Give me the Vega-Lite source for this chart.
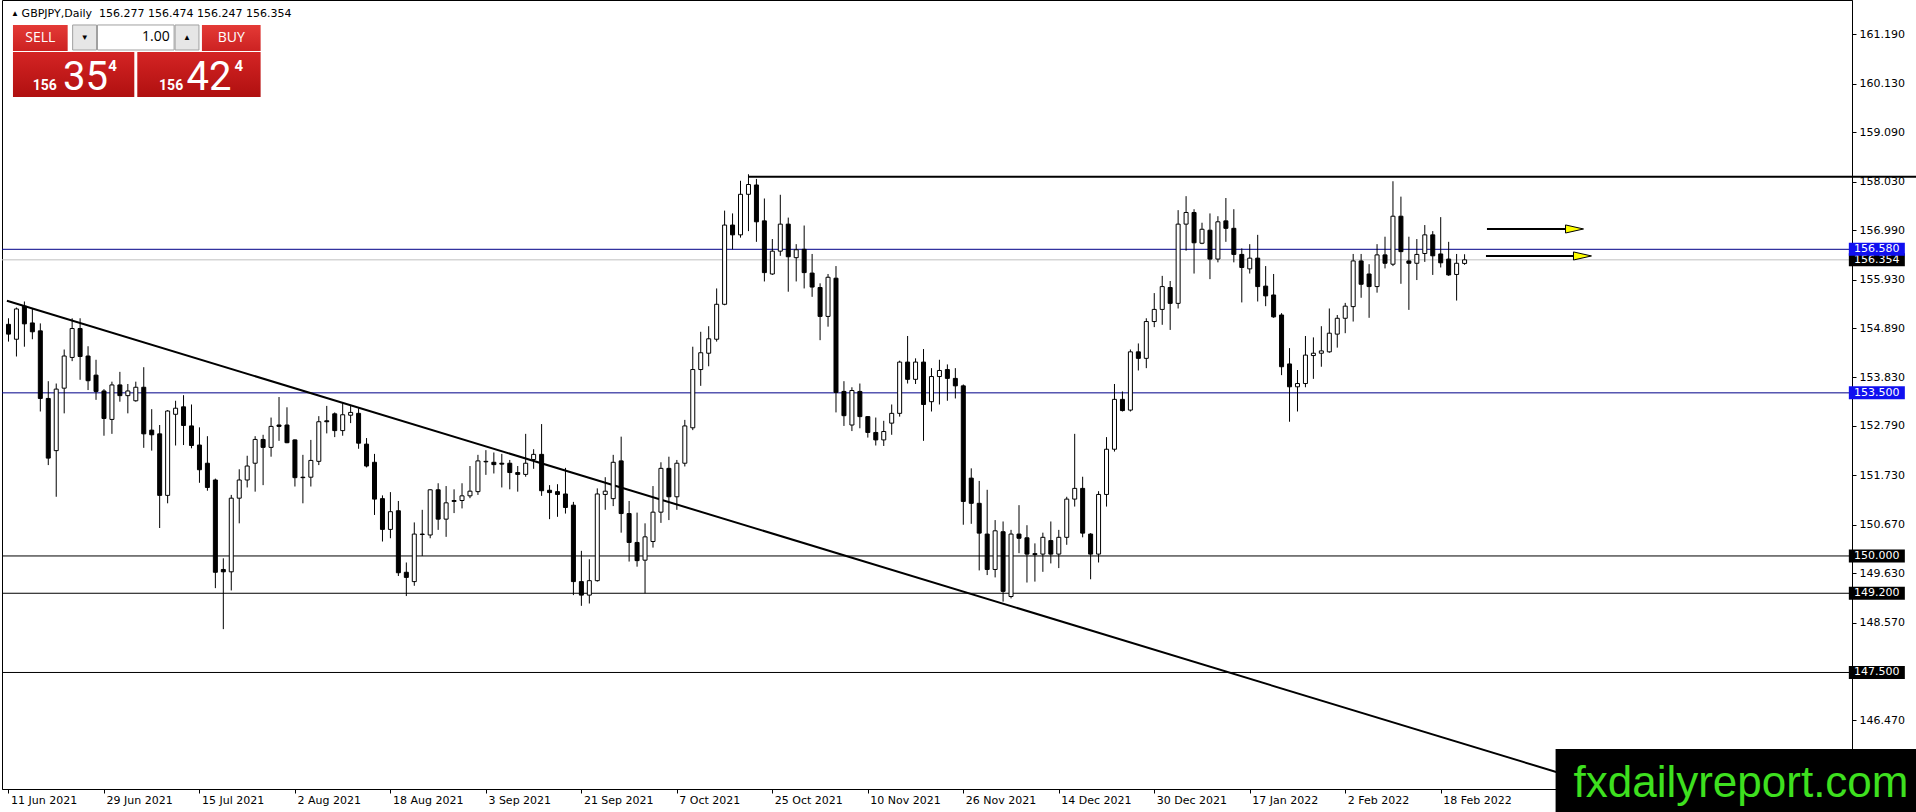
{
"$schema":"https://vega.github.io/schema/vega-lite/v6.json",
"width":1850,"height":789,
"autosize":{"type":"none"},
"padding":{"left":2,"top":0,"right":64,"bottom":23},
"background":"white",
"config":{"view":{"stroke":"black","strokeWidth":1}},
"datasets":{
"candles":[
{"d":"2021-06-11","o":154.97,"h":155.10,"l":154.60,"c":154.76},
{"d":"2021-06-14","o":154.65,"h":155.33,"l":154.28,"c":155.30},
{"d":"2021-06-15","o":155.36,"h":155.46,"l":154.49,"c":154.98},
{"d":"2021-06-16","o":155.00,"h":155.31,"l":154.65,"c":154.81},
{"d":"2021-06-17","o":154.83,"h":154.99,"l":153.10,"c":153.38},
{"d":"2021-06-18","o":153.38,"h":153.75,"l":151.95,"c":152.10},
{"d":"2021-06-21","o":152.26,"h":153.70,"l":151.27,"c":153.58},
{"d":"2021-06-22","o":153.60,"h":154.43,"l":153.06,"c":154.29},
{"d":"2021-06-23","o":154.26,"h":155.10,"l":154.18,"c":154.88},
{"d":"2021-06-24","o":154.88,"h":155.10,"l":153.78,"c":154.28},
{"d":"2021-06-25","o":154.29,"h":154.50,"l":153.56,"c":153.76},
{"d":"2021-06-28","o":153.88,"h":154.21,"l":153.35,"c":153.53},
{"d":"2021-06-29","o":153.54,"h":153.58,"l":152.58,"c":152.95},
{"d":"2021-06-30","o":152.93,"h":153.74,"l":152.62,"c":153.67},
{"d":"2021-07-01","o":153.67,"h":153.95,"l":153.31,"c":153.44},
{"d":"2021-07-02","o":153.44,"h":153.69,"l":153.06,"c":153.54},
{"d":"2021-07-05","o":153.33,"h":153.74,"l":153.31,"c":153.62},
{"d":"2021-07-06","o":153.62,"h":154.05,"l":152.32,"c":152.62},
{"d":"2021-07-07","o":152.70,"h":153.15,"l":152.26,"c":152.60},
{"d":"2021-07-08","o":152.62,"h":152.81,"l":150.60,"c":151.30},
{"d":"2021-07-09","o":151.30,"h":153.13,"l":151.13,"c":153.11},
{"d":"2021-07-12","o":153.04,"h":153.33,"l":152.37,"c":153.17},
{"d":"2021-07-13","o":153.20,"h":153.45,"l":152.38,"c":152.80},
{"d":"2021-07-14","o":152.79,"h":153.25,"l":152.31,"c":152.37},
{"d":"2021-07-15","o":152.38,"h":152.76,"l":151.57,"c":151.85},
{"d":"2021-07-16","o":151.99,"h":152.57,"l":151.40,"c":151.47},
{"d":"2021-07-19","o":151.63,"h":151.66,"l":149.31,"c":149.65},
{"d":"2021-07-20","o":149.71,"h":149.95,"l":148.43,"c":149.66},
{"d":"2021-07-21","o":149.66,"h":151.31,"l":149.26,"c":151.24},
{"d":"2021-07-22","o":151.24,"h":151.86,"l":150.70,"c":151.63},
{"d":"2021-07-23","o":151.63,"h":152.15,"l":151.47,"c":151.93},
{"d":"2021-07-26","o":151.99,"h":152.57,"l":151.38,"c":152.50},
{"d":"2021-07-27","o":152.50,"h":152.60,"l":151.52,"c":152.33},
{"d":"2021-07-28","o":152.33,"h":152.97,"l":152.13,"c":152.78},
{"d":"2021-07-29","o":152.81,"h":153.41,"l":152.47,"c":152.78},
{"d":"2021-07-30","o":152.81,"h":153.19,"l":152.42,"c":152.43},
{"d":"2021-08-02","o":152.49,"h":152.50,"l":151.49,"c":151.68},
{"d":"2021-08-03","o":151.69,"h":152.17,"l":151.13,"c":151.68},
{"d":"2021-08-04","o":151.69,"h":152.49,"l":151.49,"c":152.05},
{"d":"2021-08-05","o":152.03,"h":153.00,"l":151.95,"c":152.88},
{"d":"2021-08-06","o":152.90,"h":153.22,"l":152.63,"c":152.88},
{"d":"2021-08-09","o":153.05,"h":153.08,"l":152.55,"c":152.69},
{"d":"2021-08-10","o":152.69,"h":153.28,"l":152.58,"c":153.03},
{"d":"2021-08-11","o":153.02,"h":153.24,"l":152.85,"c":153.08},
{"d":"2021-08-12","o":153.06,"h":153.17,"l":152.30,"c":152.42},
{"d":"2021-08-13","o":152.40,"h":152.53,"l":151.90,"c":151.93},
{"d":"2021-08-16","o":152.01,"h":152.19,"l":150.88,"c":151.22},
{"d":"2021-08-17","o":151.23,"h":151.30,"l":150.31,"c":150.57},
{"d":"2021-08-18","o":150.57,"h":151.37,"l":150.38,"c":150.95},
{"d":"2021-08-19","o":150.97,"h":151.18,"l":149.57,"c":149.64},
{"d":"2021-08-20","o":149.65,"h":149.86,"l":149.14,"c":149.54},
{"d":"2021-08-23","o":149.45,"h":150.72,"l":149.36,"c":150.47},
{"d":"2021-08-24","o":150.47,"h":150.99,"l":150.00,"c":150.46},
{"d":"2021-08-25","o":150.45,"h":151.43,"l":150.38,"c":151.42},
{"d":"2021-08-26","o":151.42,"h":151.56,"l":150.56,"c":150.79},
{"d":"2021-08-27","o":150.79,"h":151.50,"l":150.41,"c":151.14},
{"d":"2021-08-30","o":151.17,"h":151.43,"l":150.92,"c":151.19},
{"d":"2021-08-31","o":151.19,"h":151.56,"l":151.02,"c":151.29},
{"d":"2021-09-01","o":151.29,"h":151.93,"l":151.24,"c":151.39},
{"d":"2021-09-02","o":151.38,"h":152.17,"l":151.31,"c":152.04},
{"d":"2021-09-03","o":152.02,"h":152.27,"l":151.74,"c":152.03},
{"d":"2021-09-06","o":152.01,"h":152.22,"l":151.77,"c":151.96},
{"d":"2021-09-07","o":151.99,"h":152.19,"l":151.47,"c":151.97},
{"d":"2021-09-08","o":151.99,"h":152.06,"l":151.43,"c":151.79},
{"d":"2021-09-09","o":151.79,"h":151.93,"l":151.38,"c":151.75},
{"d":"2021-09-10","o":151.75,"h":152.62,"l":151.70,"c":151.99},
{"d":"2021-09-13","o":152.07,"h":152.29,"l":151.87,"c":152.18},
{"d":"2021-09-14","o":152.18,"h":152.83,"l":151.29,"c":151.40},
{"d":"2021-09-15","o":151.41,"h":151.52,"l":150.79,"c":151.36},
{"d":"2021-09-16","o":151.38,"h":151.54,"l":150.84,"c":151.32},
{"d":"2021-09-17","o":151.33,"h":151.89,"l":150.91,"c":151.04},
{"d":"2021-09-20","o":151.09,"h":151.16,"l":149.16,"c":149.45},
{"d":"2021-09-21","o":149.45,"h":150.11,"l":148.93,"c":149.16},
{"d":"2021-09-22","o":149.16,"h":149.93,"l":148.98,"c":149.47},
{"d":"2021-09-23","o":149.47,"h":151.45,"l":149.45,"c":151.33},
{"d":"2021-09-24","o":151.32,"h":151.69,"l":150.99,"c":151.39},
{"d":"2021-09-27","o":151.23,"h":152.17,"l":151.07,"c":152.01},
{"d":"2021-09-28","o":152.04,"h":152.56,"l":150.50,"c":150.91},
{"d":"2021-09-29","o":150.91,"h":151.18,"l":149.88,"c":150.29},
{"d":"2021-09-30","o":150.29,"h":150.93,"l":149.77,"c":149.90},
{"d":"2021-10-01","o":149.91,"h":150.70,"l":149.20,"c":150.41},
{"d":"2021-10-04","o":150.31,"h":151.50,"l":150.18,"c":150.94},
{"d":"2021-10-05","o":150.94,"h":152.01,"l":150.71,"c":151.88},
{"d":"2021-10-06","o":151.88,"h":152.13,"l":150.77,"c":151.27},
{"d":"2021-10-07","o":151.27,"h":152.06,"l":150.99,"c":151.99},
{"d":"2021-10-08","o":151.99,"h":152.92,"l":151.92,"c":152.79},
{"d":"2021-10-11","o":152.75,"h":154.49,"l":152.70,"c":154.00},
{"d":"2021-10-12","o":154.00,"h":154.81,"l":153.65,"c":154.36},
{"d":"2021-10-13","o":154.35,"h":154.93,"l":154.07,"c":154.66},
{"d":"2021-10-14","o":154.65,"h":155.74,"l":154.60,"c":155.40},
{"d":"2021-10-15","o":155.40,"h":157.41,"l":155.38,"c":157.10},
{"d":"2021-10-18","o":157.10,"h":157.35,"l":156.58,"c":156.89},
{"d":"2021-10-19","o":156.89,"h":158.05,"l":156.83,"c":157.76},
{"d":"2021-10-20","o":157.76,"h":158.19,"l":156.97,"c":157.97},
{"d":"2021-10-21","o":157.96,"h":158.09,"l":156.74,"c":157.17},
{"d":"2021-10-22","o":157.19,"h":157.67,"l":155.89,"c":156.08},
{"d":"2021-10-25","o":156.05,"h":156.80,"l":156.03,"c":156.54},
{"d":"2021-10-26","o":156.54,"h":157.75,"l":156.44,"c":157.12},
{"d":"2021-10-27","o":157.12,"h":157.26,"l":155.67,"c":156.42},
{"d":"2021-10-28","o":156.40,"h":156.69,"l":155.89,"c":156.57},
{"d":"2021-10-29","o":156.58,"h":157.09,"l":155.74,"c":156.08},
{"d":"2021-11-01","o":156.07,"h":156.48,"l":155.56,"c":155.77},
{"d":"2021-11-02","o":155.76,"h":155.85,"l":154.63,"c":155.14},
{"d":"2021-11-03","o":155.14,"h":156.05,"l":154.92,"c":155.98},
{"d":"2021-11-04","o":155.96,"h":156.22,"l":153.08,"c":153.51},
{"d":"2021-11-05","o":153.53,"h":153.75,"l":152.79,"c":153.01},
{"d":"2021-11-08","o":152.81,"h":153.62,"l":152.68,"c":153.55},
{"d":"2021-11-09","o":153.53,"h":153.70,"l":152.74,"c":152.99},
{"d":"2021-11-10","o":152.99,"h":153.00,"l":152.54,"c":152.65},
{"d":"2021-11-11","o":152.65,"h":152.97,"l":152.37,"c":152.49},
{"d":"2021-11-12","o":152.49,"h":152.90,"l":152.36,"c":152.67},
{"d":"2021-11-15","o":152.85,"h":153.25,"l":152.60,"c":153.06},
{"d":"2021-11-16","o":153.06,"h":154.19,"l":152.99,"c":154.16},
{"d":"2021-11-17","o":154.16,"h":154.72,"l":153.70,"c":153.79},
{"d":"2021-11-18","o":153.79,"h":154.24,"l":153.69,"c":154.16},
{"d":"2021-11-19","o":154.16,"h":154.44,"l":152.47,"c":153.25},
{"d":"2021-11-22","o":153.31,"h":154.03,"l":153.10,"c":153.85},
{"d":"2021-11-23","o":153.85,"h":154.21,"l":153.25,"c":153.98},
{"d":"2021-11-24","o":154.00,"h":154.11,"l":153.33,"c":153.81},
{"d":"2021-11-25","o":153.81,"h":154.03,"l":153.38,"c":153.65},
{"d":"2021-11-26","o":153.65,"h":153.68,"l":150.67,"c":151.17},
{"d":"2021-11-29","o":151.67,"h":151.88,"l":150.69,"c":151.13},
{"d":"2021-11-30","o":151.13,"h":151.61,"l":149.69,"c":150.49},
{"d":"2021-12-01","o":150.47,"h":151.42,"l":149.59,"c":149.71},
{"d":"2021-12-02","o":149.71,"h":150.77,"l":149.54,"c":150.54},
{"d":"2021-12-03","o":150.52,"h":150.74,"l":149.02,"c":149.24},
{"d":"2021-12-06","o":149.13,"h":150.56,"l":149.09,"c":150.47},
{"d":"2021-12-07","o":150.47,"h":151.09,"l":150.06,"c":150.38},
{"d":"2021-12-08","o":150.39,"h":150.66,"l":149.43,"c":150.04},
{"d":"2021-12-09","o":150.05,"h":150.27,"l":149.45,"c":150.03},
{"d":"2021-12-10","o":150.04,"h":150.50,"l":149.66,"c":150.40},
{"d":"2021-12-13","o":150.33,"h":150.74,"l":149.84,"c":150.04},
{"d":"2021-12-14","o":150.04,"h":150.56,"l":149.74,"c":150.40},
{"d":"2021-12-15","o":150.40,"h":151.27,"l":150.24,"c":151.22},
{"d":"2021-12-16","o":151.22,"h":152.62,"l":151.06,"c":151.45},
{"d":"2021-12-17","o":151.45,"h":151.70,"l":150.40,"c":150.49},
{"d":"2021-12-20","o":150.47,"h":150.49,"l":149.50,"c":150.04},
{"d":"2021-12-21","o":150.04,"h":151.39,"l":149.86,"c":151.32},
{"d":"2021-12-22","o":151.32,"h":152.55,"l":151.06,"c":152.29},
{"d":"2021-12-23","o":152.29,"h":153.69,"l":152.24,"c":153.36},
{"d":"2021-12-24","o":153.36,"h":153.53,"l":153.10,"c":153.12},
{"d":"2021-12-27","o":153.13,"h":154.43,"l":153.10,"c":154.38},
{"d":"2021-12-28","o":154.38,"h":154.56,"l":153.98,"c":154.24},
{"d":"2021-12-29","o":154.24,"h":155.10,"l":154.03,"c":155.03},
{"d":"2021-12-30","o":155.03,"h":155.64,"l":154.91,"c":155.29},
{"d":"2021-12-31","o":155.29,"h":156.01,"l":154.96,"c":155.78},
{"d":"2022-01-03","o":155.76,"h":155.90,"l":154.85,"c":155.42},
{"d":"2022-01-04","o":155.42,"h":157.42,"l":155.31,"c":157.12},
{"d":"2022-01-05","o":157.12,"h":157.72,"l":156.55,"c":157.37},
{"d":"2022-01-06","o":157.37,"h":157.44,"l":156.06,"c":156.72},
{"d":"2022-01-07","o":156.71,"h":157.15,"l":156.69,"c":157.01},
{"d":"2022-01-10","o":156.99,"h":157.35,"l":155.94,"c":156.37},
{"d":"2022-01-11","o":156.37,"h":157.29,"l":156.30,"c":157.17},
{"d":"2022-01-12","o":157.19,"h":157.68,"l":156.74,"c":157.03},
{"d":"2022-01-13","o":157.03,"h":157.44,"l":156.30,"c":156.47},
{"d":"2022-01-14","o":156.47,"h":156.60,"l":155.44,"c":156.19},
{"d":"2022-01-17","o":156.16,"h":156.69,"l":156.06,"c":156.39},
{"d":"2022-01-18","o":156.39,"h":156.89,"l":155.46,"c":155.78},
{"d":"2022-01-19","o":155.79,"h":156.22,"l":155.36,"c":155.58},
{"d":"2022-01-20","o":155.60,"h":156.05,"l":155.11,"c":155.13},
{"d":"2022-01-21","o":155.17,"h":155.21,"l":153.88,"c":154.06},
{"d":"2022-01-24","o":154.12,"h":154.46,"l":152.88,"c":153.63},
{"d":"2022-01-25","o":153.63,"h":153.99,"l":153.10,"c":153.70},
{"d":"2022-01-26","o":153.70,"h":154.72,"l":153.62,"c":154.31},
{"d":"2022-01-27","o":154.30,"h":154.69,"l":153.80,"c":154.35},
{"d":"2022-01-28","o":154.35,"h":154.93,"l":154.06,"c":154.40},
{"d":"2022-01-31","o":154.38,"h":155.31,"l":154.36,"c":154.78},
{"d":"2022-02-01","o":154.76,"h":155.17,"l":154.47,"c":155.10},
{"d":"2022-02-02","o":155.10,"h":155.43,"l":154.78,"c":155.36},
{"d":"2022-02-03","o":155.35,"h":156.48,"l":155.03,"c":156.33},
{"d":"2022-02-04","o":156.33,"h":156.48,"l":155.54,"c":155.83},
{"d":"2022-02-07","o":156.05,"h":156.26,"l":155.11,"c":155.78},
{"d":"2022-02-08","o":155.78,"h":156.69,"l":155.65,"c":156.46},
{"d":"2022-02-09","o":156.46,"h":156.85,"l":156.17,"c":156.28},
{"d":"2022-02-10","o":156.26,"h":158.04,"l":156.22,"c":157.29},
{"d":"2022-02-11","o":157.29,"h":157.71,"l":155.84,"c":156.53},
{"d":"2022-02-14","o":156.33,"h":156.85,"l":155.28,"c":156.28},
{"d":"2022-02-15","o":156.28,"h":156.80,"l":155.92,"c":156.47},
{"d":"2022-02-16","o":156.49,"h":157.10,"l":156.31,"c":156.89},
{"d":"2022-02-17","o":156.89,"h":156.97,"l":156.03,"c":156.44},
{"d":"2022-02-18","o":156.48,"h":157.27,"l":156.19,"c":156.29},
{"d":"2022-02-21","o":156.37,"h":156.74,"l":156.01,"c":156.03},
{"d":"2022-02-22","o":156.04,"h":156.48,"l":155.48,"c":156.28},
{"d":"2022-02-23","o":156.277,"h":156.474,"l":156.247,"c":156.354}
]},
"layer":[
{"data":{"values":[{"p":156.354}]},"mark":{"type":"rule","color":"#c0c0c0","strokeWidth":1},"encoding":{"y":{"field":"p","type":"quantitative"}}},
{"data":{"values":[{"p":156.58},{"p":153.5}]},"mark":{"type":"rule","color":"#000088","strokeWidth":1},"encoding":{"y":{"field":"p","type":"quantitative"}}},
{"data":{"values":[{"p":150.0},{"p":149.2},{"p":147.5}]},"mark":{"type":"rule","color":"black","strokeWidth":1},"encoding":{"y":{"field":"p","type":"quantitative"}}},
{"data":{"values":[{"t1":0.8,"p1":155.477,"t2":201,"p2":145.08}]},"mark":{"type":"rule","color":"black","strokeWidth":2},"encoding":{"x":{"field":"t1","type":"quantitative"},"y":{"field":"p1","type":"quantitative"},"x2":{"field":"t2"},"y2":{"field":"p2"}}},
{"data":{"values":[{"t1":94,"t2":241,"p":158.138}]},"mark":{"type":"rule","color":"black","strokeWidth":2},"encoding":{"x":{"field":"t1","type":"quantitative"},"x2":{"field":"t2"},"y":{"field":"p","type":"quantitative"}}},
{"data":{"name":"candles"},
 "transform":[{"window":[{"op":"row_number","as":"t"}],"sort":[{"field":"d","order":"ascending"}]}],
 "layer":[
  {"mark":{"type":"rule","color":"black","strokeWidth":1},
   "encoding":{
    "x":{"field":"t","type":"quantitative","scale":{"domain":[0.8125,232.0625],"nice":false,"zero":false},
      "axis":{"orient":"bottom","title":null,"grid":false,"values":[1,13,25,37,49,61,73,85,97,109,121,133,145,157,169,181],
        "labelExpr":"['11 Jun 2021','29 Jun 2021','15 Jul 2021','2 Aug 2021','18 Aug 2021','3 Sep 2021','21 Sep 2021','7 Oct 2021','25 Oct 2021','10 Nov 2021','26 Nov 2021','14 Dec 2021','30 Dec 2021','17 Jan 2022','2 Feb 2022','18 Feb 2022'][round((datum.value-1)/12)]",
        "labelAlign":"left","labelOffset":2,"labelPadding":1,"tickSize":4,"tickColor":"black","domainColor":"black","labelColor":"black","labelFont":"DejaVu Sans","labelFontSize":11,"labelOverlap":false,"labelFlush":false,"labelBound":false}},
    "y":{"field":"l","type":"quantitative","scale":{"domain":[145.0,161.929],"nice":false,"zero":false},
      "axis":{"orient":"right","title":null,"grid":false,"values":[161.19,160.13,159.09,158.03,156.99,155.93,154.89,153.83,152.79,151.73,150.67,149.63,148.57,146.47],
        "format":".3f","tickSize":4,"tickColor":"black","domainColor":"black","labelColor":"black","labelFont":"DejaVu Sans","labelFontSize":11,"labelPadding":3,"labelOverlap":false,"labelFlush":false,"labelBound":false}},
    "y2":{"field":"h"}}},
  {"mark":{"type":"bar","width":4,"stroke":"black","strokeWidth":1},
   "encoding":{
    "x":{"field":"t","type":"quantitative"},
    "y":{"field":"o","type":"quantitative"},
    "y2":{"field":"c"},
    "fill":{"condition":{"test":"datum.c >= datum.o","value":"white"},"value":"black"}}}
 ]},
{"data":{"values":[{"from":186.8125,"to":196.8125,"p":157.016},{"from":186.6875,"to":197.8125,"p":156.437}]},
 "layer":[
  {"mark":{"type":"rule","color":"black","strokeWidth":2},"encoding":{"x":{"field":"from","type":"quantitative"},"x2":{"field":"to"},"y":{"field":"p","type":"quantitative"}}},
  {"mark":{"type":"point","shape":"M-1,-0.45L1,0L-1,0.45Z","size":324,"filled":true,"fill":"#ffff00","stroke":"black","strokeWidth":1,"opacity":1,"xOffset":8},"encoding":{"x":{"field":"to","type":"quantitative"},"y":{"field":"p","type":"quantitative"}}}
 ]},
{"data":{"values":[{}]},"mark":{"type":"text","text":"▲","fontSize":8,"color":"black","align":"center","baseline":"middle"},"encoding":{"x":{"datum":1.8125,"type":"quantitative"},"y":{"datum":161.629,"type":"quantitative"}}},
{"data":{"values":[{}]},"mark":{"type":"text","text":"GBPJPY,Daily\u00a0 156.277 156.474 156.247 156.354","font":"DejaVu Sans","fontSize":11,"color":"black","align":"left","baseline":"middle"},"encoding":{"x":{"datum":2.65,"type":"quantitative"},"y":{"datum":161.629,"type":"quantitative"}}},
{"data":{"values":[{}]},"mark":{"type":"rect","fill":{"gradient":"linear","x1":0,"y1":0,"x2":0,"y2":1,"stops":[{"offset":0,"color":"#e43a36"},{"offset":1,"color":"#cc2222"}]}},"encoding":{"x":{"datum":1.5625,"type":"quantitative"},"x2":{"datum":8.4375},"y":{"datum":161.393,"type":"quantitative"},"y2":{"datum":160.835}}},
{"data":{"values":[{}]},"mark":{"type":"rect","fill":{"gradient":"linear","x1":0,"y1":0,"x2":0,"y2":1,"stops":[{"offset":0,"color":"#e43a36"},{"offset":1,"color":"#cc2222"}]}},"encoding":{"x":{"datum":25.3125,"type":"quantitative"},"x2":{"datum":32.6875},"y":{"datum":161.393,"type":"quantitative"},"y2":{"datum":160.835}}},
{"data":{"values":[{}]},"mark":{"type":"rect","fill":"#e6e6e6","stroke":"#a0a0a0","strokeWidth":1},"encoding":{"x":{"datum":9.0625,"type":"quantitative"},"x2":{"datum":12.0625},"y":{"datum":161.393,"type":"quantitative"},"y2":{"datum":160.856}}},
{"data":{"values":[{}]},"mark":{"type":"rect","fill":"white","stroke":"#a0a0a0","strokeWidth":1},"encoding":{"x":{"datum":12.1875,"type":"quantitative"},"x2":{"datum":21.8125},"y":{"datum":161.393,"type":"quantitative"},"y2":{"datum":160.856}}},
{"data":{"values":[{}]},"mark":{"type":"rect","fill":"#e6e6e6","stroke":"#a0a0a0","strokeWidth":1},"encoding":{"x":{"datum":21.9375,"type":"quantitative"},"x2":{"datum":24.9375},"y":{"datum":161.393,"type":"quantitative"},"y2":{"datum":160.856}}},
{"data":{"values":[{}]},"mark":{"type":"rect","fill":{"gradient":"linear","x1":0,"y1":0,"x2":0,"y2":1,"stops":[{"offset":0,"color":"#d42424"},{"offset":1,"color":"#b01010"}]}},"encoding":{"x":{"datum":1.5625,"type":"quantitative"},"x2":{"datum":16.8125},"y":{"datum":160.813,"type":"quantitative"},"y2":{"datum":159.848}}},
{"data":{"values":[{}]},"mark":{"type":"rect","fill":{"gradient":"linear","x1":0,"y1":0,"x2":0,"y2":1,"stops":[{"offset":0,"color":"#d42424"},{"offset":1,"color":"#b01010"}]}},"encoding":{"x":{"datum":17.1875,"type":"quantitative"},"x2":{"datum":32.6875},"y":{"datum":160.813,"type":"quantitative"},"y2":{"datum":159.848}}},
{"data":{"values":[{}]},"mark":{"type":"text","text":"SELL","font":"Open Sans","fontSize":14,"color":"white","align":"center","baseline":"middle"},"encoding":{"x":{"datum":5.0,"type":"quantitative"},"y":{"datum":161.114,"type":"quantitative"}}},
{"data":{"values":[{}]},"mark":{"type":"text","text":"BUY","font":"Open Sans","fontSize":14,"color":"white","align":"center","baseline":"middle"},"encoding":{"x":{"datum":29.0,"type":"quantitative"},"y":{"datum":161.114,"type":"quantitative"}}},
{"data":{"values":[{}]},"mark":{"type":"text","text":"1.00","font":"Open Sans","fontSize":14,"color":"black","align":"right","baseline":"middle"},"encoding":{"x":{"datum":21.275,"type":"quantitative"},"y":{"datum":161.129,"type":"quantitative"}}},
{"data":{"values":[{}]},"mark":{"type":"text","text":"▼","fontSize":8,"color":"black","align":"center","baseline":"middle"},"encoding":{"x":{"datum":10.5625,"type":"quantitative"},"y":{"datum":161.124,"type":"quantitative"}}},
{"data":{"values":[{}]},"mark":{"type":"text","text":"▲","fontSize":8,"color":"black","align":"center","baseline":"middle"},"encoding":{"x":{"datum":23.4375,"type":"quantitative"},"y":{"datum":161.124,"type":"quantitative"}}},
{"data":{"values":[{}]},"mark":{"type":"text","text":"156","font":"Roboto","fontSize":14,"fontWeight":"bold","color":"white","align":"center","baseline":"alphabetic"},"encoding":{"x":{"datum":5.5625,"type":"quantitative"},"y":{"datum":159.99,"type":"quantitative"}}},
{"data":{"values":[{}]},"mark":{"type":"text","text":"35","font":"Roboto","fontSize":40,"color":"white","align":"center","baseline":"alphabetic"},"encoding":{"x":{"datum":10.6875,"type":"quantitative"},"y":{"datum":159.99,"type":"quantitative"}}},
{"data":{"values":[{}]},"mark":{"type":"text","text":"4","font":"Roboto","fontSize":15,"fontWeight":"bold","color":"white","align":"center","baseline":"alphabetic"},"encoding":{"x":{"datum":14.0625,"type":"quantitative"},"y":{"datum":160.406,"type":"quantitative"}}},
{"data":{"values":[{}]},"mark":{"type":"text","text":"156","font":"Roboto","fontSize":14,"fontWeight":"bold","color":"white","align":"center","baseline":"alphabetic"},"encoding":{"x":{"datum":21.4375,"type":"quantitative"},"y":{"datum":159.99,"type":"quantitative"}}},
{"data":{"values":[{}]},"mark":{"type":"text","text":"42","font":"Roboto","fontSize":40,"color":"white","align":"center","baseline":"alphabetic"},"encoding":{"x":{"datum":26.1875,"type":"quantitative"},"y":{"datum":159.99,"type":"quantitative"}}},
{"data":{"values":[{}]},"mark":{"type":"text","text":"4","font":"Roboto","fontSize":15,"fontWeight":"bold","color":"white","align":"center","baseline":"alphabetic"},"encoding":{"x":{"datum":29.9375,"type":"quantitative"},"y":{"datum":160.406,"type":"quantitative"}}},
{"data":{"values":[{}]},"mark":{"type":"rect","fill":"black"},"encoding":{"x":{"datum":195.4375,"type":"quantitative"},"x2":{"datum":241},"y":{"datum":145.859,"type":"quantitative"},"y2":{"datum":144.3}}},
{"data":{"values":[{}]},"mark":{"type":"text","text":"fxdailyreport.com","font":"Liberation Sans","fontSize":44,"color":"#3ee01f","align":"left","baseline":"alphabetic"},"encoding":{"x":{"datum":197.6875,"type":"quantitative"},"y":{"datum":144.83,"type":"quantitative"}}},
{"data":{"values":[{"p":156.354},{"p":150.0},{"p":149.2},{"p":147.5}]},
 "layer":[
  {"mark":{"type":"point","shape":"M-1,-0.232H1V0.232H-1Z","size":3136,"filled":true,"fill":"black","strokeWidth":0,"opacity":1},"encoding":{"x":{"datum":235.8125,"type":"quantitative"},"y":{"field":"p","type":"quantitative"}}},
  {"mark":{"type":"text","font":"DejaVu Sans","fontSize":11,"color":"white","align":"left","baseline":"middle"},"encoding":{"x":{"datum":232.9375,"type":"quantitative"},"y":{"field":"p","type":"quantitative"},"text":{"field":"p","type":"quantitative","format":".3f"}}}
 ]},
{"data":{"values":[{"p":156.58},{"p":153.5}]},
 "layer":[
  {"mark":{"type":"point","shape":"M-1,-0.232H1V0.232H-1Z","size":3136,"filled":true,"fill":"#1010f0","strokeWidth":0,"opacity":1},"encoding":{"x":{"datum":235.8125,"type":"quantitative"},"y":{"field":"p","type":"quantitative"}}},
  {"mark":{"type":"text","font":"DejaVu Sans","fontSize":11,"color":"white","align":"left","baseline":"middle"},"encoding":{"x":{"datum":232.9375,"type":"quantitative"},"y":{"field":"p","type":"quantitative"},"text":{"field":"p","type":"quantitative","format":".3f"}}}
 ]}
]
}
